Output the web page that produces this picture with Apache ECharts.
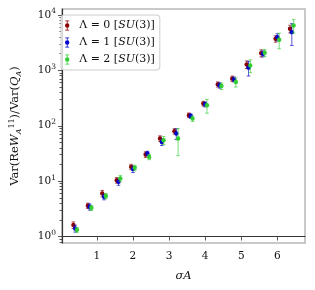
<!DOCTYPE html>
<html><head><meta charset="utf-8">
<script src="https://cdn.jsdelivr.net/npm/echarts@6/dist/echarts.min.js"></script>
<style>html,body{margin:0;padding:0;background:#fff}#c{width:315px;height:290px}</style>
</head><body><div id="c"></div>
<script>
const sigmaA = [0.4,0.8,1.2,1.6,2.0,2.4,2.8,3.2,3.6,4.0,4.4,4.8,5.2,5.6,6.0,6.4];
const xOffsets = [-0.05, 0, 0.05];
const seriesNames = ['Λ = 0', 'Λ = 1', 'Λ = 2'];
const colors = ['#8B0000', '#0000CD', '#32CD32'];
const val0 = [1.62,3.6,6.0,10.4,18.1,30.3,58.8,79.5,155,251,559,708,1282,2050,3725,5640];
const err0 = [0.22,0.4,0.8,1.2,2.0,3.5,7,9,15,25,60,80,200,300,500,900];
const val1 = [1.40,3.44,5.2,9.7,16.5,31.6,51,72.3,150,244,537,689,1119,1996,3982,4900];
const err1 = [0.2,0.45,0.6,1.3,2.2,3.0,7,16,14,25,60,70,330,250,600,2080];
const val2 = [1.32,3.30,5.4,11.2,17.4,27.4,54.8,58.8,135,234,521,615,1230,2084,3573,6470];
const err2 = [0.13,0.35,0.6,1.4,2.0,3.0,9,30,15,65,70,115,320,300,1120,1770];
const xTicks = [1,2,3,4,5,6];
const yTickExponents = [0,1,2,3,4];

const vals = [val0, val1, val2];
const errs = [err0, err1, err2];
const FONT = 'DejaVu Serif';
const yMin = -0.117, yMax = 4.108;

const minorTicks = [];
for (let n = -1; n <= 4; n++) for (let k = 2; k <= 9; k++) {
  const l = Math.log10(k * Math.pow(10, n));
  if (l > yMin && l < yMax) minorTicks.push(l);
}

const iconPath = 'path://M0,0H4V0.8H2.4V9.2H4V10H0V9.2H1.6V0.8H0ZM4.2,5A2.2,2.2,0,1,1,-0.2,5A2.2,2.2,0,1,1,4.2,5Z';

function makeSeries(i) {
  const color = colors[i];
  const data = vals[i].map((v, j) => [sigmaA[j] + xOffsets[i], Math.log10(v), Math.log10(v + errs[i][j]), Math.log10(v - errs[i][j])]);
  return {
    type: 'custom', name: seriesNames[i], data: data,
    itemStyle: {color: color},
    encode: {x: 0, y: [1, 2, 3]},
    animation: false, silent: true, clip: false,
    renderItem: function (params, api) {
      const x = api.value(0);
      const c = api.coord([x, api.value(1)]);
      const hi = api.coord([x, api.value(2)]);
      const lo = api.coord([x, api.value(3)]);
      const cap = 1.8;
      const bs = {stroke: color, lineWidth: 1, opacity: 0.65};
      return {type: 'group', children: [
        {type: 'line', shape: {x1: c[0], y1: hi[1], x2: c[0], y2: lo[1]}, style: bs},
        {type: 'line', shape: {x1: c[0] - cap, y1: hi[1], x2: c[0] + cap, y2: hi[1]}, style: bs},
        {type: 'line', shape: {x1: c[0] - cap, y1: lo[1], x2: c[0] + cap, y2: lo[1]}, style: bs},
        {type: 'circle', shape: {cx: c[0], cy: c[1], r: 2.2}, style: {fill: color}}
      ]};
    }
  };
}

const chart = echarts.init(document.getElementById('c'), null, {renderer: 'canvas'});
chart.setOption({
  animation: false,
  backgroundColor: '#fff',
  grid: {left: 56, right: 10, top: 9, bottom: 47, show: true, borderColor: '#b8b8b8', borderWidth: 1.5, backgroundColor: 'transparent'},
  legend: {
    orient: 'vertical', left: 61, top: 15,
    padding: [4, 5, 4, 4], itemGap: 4, itemWidth: 14, itemHeight: 10,
    borderColor: '#cccccc', borderWidth: 1, borderRadius: 3, backgroundColor: 'rgba(255,255,255,0.8)',
    data: seriesNames.map(n => ({name: n, icon: iconPath})),
    formatter: n => '{t|' + n + ' [}{i|SU}{t|(3)]}',
    textStyle: {
      fontFamily: FONT, fontSize: 11, color: '#111', lineHeight: 13,
      rich: {t: {fontFamily: FONT, fontSize: 11, color: '#111'}, i: {fontFamily: FONT, fontSize: 11, fontStyle: 'italic', color: '#111'}}
    }
  },
  xAxis: {
    type: 'value', min: 0.035, max: 6.765,
    name: '{it|σA}', nameLocation: 'middle', nameGap: 27,
    nameTextStyle: {fontFamily: FONT, fontSize: 11.5, color: '#111', rich: {it: {fontFamily: FONT, fontSize: 11.5, fontStyle: 'italic', color: '#111'}}},
    axisLine: {show: true, lineStyle: {color: '#333', width: 1.2}},
    axisTick: {show: true, length: 4, customValues: xTicks, lineStyle: {color: '#555'}},
    axisLabel: {customValues: xTicks, margin: 8, fontFamily: FONT, fontSize: 10.5, color: '#111'},
    splitLine: {show: false}
  },
  yAxis: [{
    type: 'value', min: yMin, max: yMax,
    name: '{n|Var(Re}{it|W}{sub|A}{sup|11}{n|)/Var(}{it|Q}{sub|A}{n|)}',
    nameLocation: 'middle', nameRotate: 90, nameGap: 39,
    nameTextStyle: {fontFamily: FONT, fontSize: 11.5, color: '#111', rich: {
      n: {fontFamily: FONT, fontSize: 11.5, color: '#111'},
      it: {fontFamily: FONT, fontSize: 11.5, fontStyle: 'italic', color: '#111'},
      sub: {fontFamily: FONT, fontSize: 8, fontStyle: 'italic', color: '#111', padding: [6, 0, 0, 0]},
      sup: {fontFamily: FONT, fontSize: 8, color: '#111', padding: [0, 0, 7, 0]}
    }},
    axisLine: {show: true, lineStyle: {color: '#333', width: 1.2}},
    axisTick: {show: true, length: 4, customValues: yTickExponents, lineStyle: {color: '#555'}},
    axisLabel: {
      customValues: yTickExponents, margin: 6,
      formatter: v => '{b|10}{s|' + Math.round(v) + '}',
      rich: {b: {fontFamily: FONT, fontSize: 10.5, color: '#111'}, s: {fontFamily: FONT, fontSize: 7.5, color: '#111', padding: [0, 0, 7, 0]}}
    },
    splitLine: {show: false}
  }, {
    type: 'value', min: yMin, max: yMax, position: 'left',
    axisLine: {show: false},
    axisTick: {show: true, length: 2.5, customValues: minorTicks, lineStyle: {color: '#555'}},
    axisLabel: {show: false},
    splitLine: {show: false}
  }],
  series: [0, 1, 2].map(makeSeries)
});
</script>
</body></html>
